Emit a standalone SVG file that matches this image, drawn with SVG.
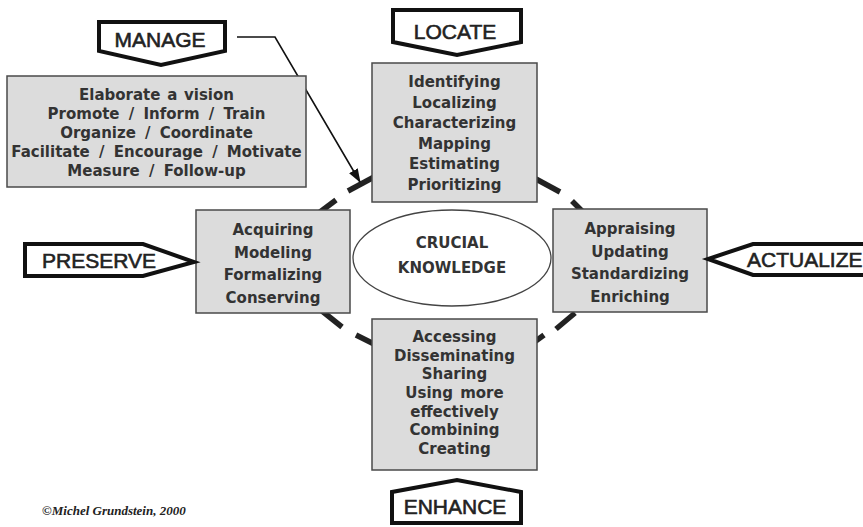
<svg xmlns="http://www.w3.org/2000/svg" width="863" height="527" viewBox="0 0 863 527">
<defs>
<style>
.box{fill:#dcdcdc;stroke:#4a4a4a;stroke-width:1.5}
.bt{font-family:"DejaVu Sans",Verdana,sans-serif;font-weight:bold;font-size:15px;fill:#333;text-anchor:middle}
.ws{word-spacing:4px}
.lab{fill:#fff;stroke:#111;stroke-width:4;stroke-linejoin:miter}
.lt{font-family:"Liberation Sans",Arial,sans-serif;font-size:21px;fill:#222;stroke:#222;stroke-width:0.6}
.dash{stroke:#222;stroke-width:5.5;stroke-linecap:butt;fill:none}
</style>
<marker id="ah" viewBox="0 0 14 10" refX="13" refY="5" markerWidth="14" markerHeight="10" markerUnits="userSpaceOnUse" orient="auto">
<path d="M0,0 L14,5 L0,10 Z" fill="#111"/>
</marker>
</defs>
<rect width="863" height="527" fill="#fff"/>

<g id="connectors">
<g id="cycle">
<line class="dash" x1="320" y1="212" x2="336" y2="200"/>
<line class="dash" x1="348" y1="191" x2="374" y2="177"/>
<line class="dash" x1="536" y1="179" x2="560" y2="192"/>
<line class="dash" x1="572" y1="201" x2="585" y2="214"/>
<line class="dash" x1="556" y1="329" x2="575" y2="313"/>
<line class="dash" x1="533" y1="343" x2="544" y2="335"/>
<line class="dash" x1="322" y1="311" x2="342" y2="327"/>
<line class="dash" x1="356" y1="335" x2="376" y2="345"/>
</g>
<polyline id="manage-arrow" points="237,37 275,37 360,182" fill="none" stroke="#111" stroke-width="1.6" marker-end="url(#ah)"/>
</g>

<g id="center">
<ellipse cx="452" cy="258" rx="99" ry="48" fill="#fff" stroke="#444" stroke-width="1.3"/>
<text class="bt" x="452" y="248">CRUCIAL</text>
<text class="bt" x="452" y="273">KNOWLEDGE</text>
</g>

<g id="manage-box">
<rect class="box" x="7" y="76" width="299" height="111"/>
<text class="bt" x="156.5" y="100" style="word-spacing:1.5px">Elaborate a vision</text>
<text class="bt ws" x="156.5" y="119">Promote / Inform / Train</text>
<text class="bt ws" x="156.5" y="138">Organize / Coordinate</text>
<text class="bt ws" x="156.5" y="157">Facilitate / Encourage / Motivate</text>
<text class="bt ws" x="156.5" y="176">Measure / Follow-up</text>
</g>

<g id="locate-box">
<rect class="box" x="372" y="63" width="165" height="139"/>
<text class="bt" x="454.5" y="87">Identifying</text>
<text class="bt" x="454.5" y="107.6">Localizing</text>
<text class="bt" x="454.5" y="128.2">Characterizing</text>
<text class="bt" x="454.5" y="148.8">Mapping</text>
<text class="bt" x="454.5" y="169.4">Estimating</text>
<text class="bt" x="454.5" y="190">Prioritizing</text>
</g>

<g id="preserve-box">
<rect class="box" x="196" y="210" width="154" height="103"/>
<text class="bt" x="273" y="235">Acquiring</text>
<text class="bt" x="273" y="257.5">Modeling</text>
<text class="bt" x="273" y="280">Formalizing</text>
<text class="bt" x="273" y="302.5">Conserving</text>
</g>

<g id="actualize-box">
<rect class="box" x="553" y="209" width="154" height="103"/>
<text class="bt" x="630" y="234">Appraising</text>
<text class="bt" x="630" y="256.5">Updating</text>
<text class="bt" x="630" y="279">Standardizing</text>
<text class="bt" x="630" y="301.5">Enriching</text>
</g>

<g id="enhance-box">
<rect class="box" x="372" y="319" width="165" height="151"/>
<text class="bt" x="454.5" y="342">Accessing</text>
<text class="bt" x="454.5" y="360.7">Disseminating</text>
<text class="bt" x="454.5" y="379.3">Sharing</text>
<text class="bt" x="454.5" y="398" style="word-spacing:2px">Using more</text>
<text class="bt" x="454.5" y="416.7">effectively</text>
<text class="bt" x="454.5" y="435.3">Combining</text>
<text class="bt" x="454.5" y="454">Creating</text>
</g>

<g id="manage">
<polygon class="lab" points="99,22 225,22 225,51 161,65 99,51"/>
<text class="lt" x="160" y="47" text-anchor="middle">MANAGE</text>
</g>

<g id="locate">
<polygon class="lab" points="393,10 521,10 521,42 457,55 393,42"/>
<text class="lt" x="455" y="39" text-anchor="middle">LOCATE</text>
</g>

<g id="preserve">
<polygon class="lab" points="25,244 143,244 194,262 143,276 25,276"/>
<text class="lt" x="42" y="268">PRESERVE</text>
</g>

<g id="actualize">
<polygon class="lab" points="870,244 753,244 708,259 753,275 870,275"/>
<text class="lt" x="747" y="267">ACTUALIZE</text>
</g>

<g id="enhance">
<polygon class="lab" points="392,523 392,492 457,480 521,492 521,523"/>
<text class="lt" x="455" y="514" text-anchor="middle">ENHANCE</text>
</g>

<text id="credit" x="42" y="515" font-family="'Liberation Serif','Times New Roman',serif" font-style="italic" font-weight="bold" font-size="13" fill="#222">©Michel Grundstein, 2000</text>
</svg>
